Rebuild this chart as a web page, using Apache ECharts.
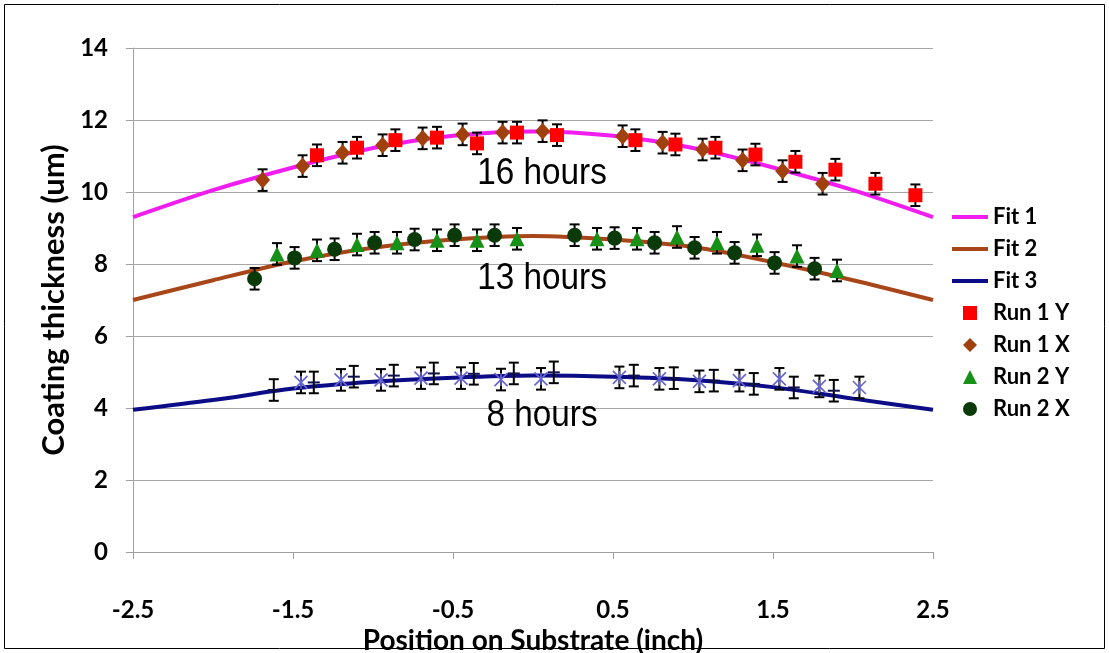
<!DOCTYPE html>
<html>
<head>
<meta charset="UTF-8">
<title>Coating thickness</title>
<script src="https://cdn.jsdelivr.net/npm/echarts@6/dist/echarts.min.js"></script>
<style>
html, body { margin: 0; padding: 0; background: #fff; }
#chart { width: 1109px; height: 653px; }
</style>
</head>
<body>
<div id="chart"></div>
<script>
// fitted curves
var fitX  = [-2.5, -2, -1.5, -1, -0.5, 0, 0.5, 1, 1.5, 2, 2.5];
var fit1Y = [9.3, 10.05, 10.68, 11.22, 11.56, 11.68, 11.56, 11.22, 10.68, 10.05, 9.3];
var fit2Y = [7.0, 7.55, 8.07, 8.45, 8.68, 8.78, 8.68, 8.47, 8.05, 7.55, 7.0];
var fit3Y = [3.95, 4.22, 4.54, 4.73, 4.84, 4.9, 4.87, 4.78, 4.58, 4.26, 3.95];

// 16 hours
var run1YX = [-1.35, -1.10, -0.86, -0.60, -0.35, -0.10, 0.15, 0.64, 0.89, 1.14, 1.39, 1.64, 1.89, 2.14, 2.39];
var run1YV = [11.02, 11.23, 11.44, 11.51, 11.35, 11.65, 11.58, 11.44, 11.32, 11.23, 11.04, 10.84, 10.62, 10.23, 9.91];
var run1XX = [-1.69, -1.44, -1.19, -0.94, -0.69, -0.44, -0.19, 0.06, 0.56, 0.81, 1.06, 1.31, 1.56, 1.81];
var run1XV = [10.33, 10.72, 11.09, 11.30, 11.49, 11.60, 11.65, 11.69, 11.55, 11.37, 11.18, 10.88, 10.58, 10.23];

// 13 hours
var run2YX = [-1.60, -1.35, -1.10, -0.85, -0.60, -0.35, -0.10, 0.40, 0.65, 0.90, 1.15, 1.40, 1.65, 1.90];
var run2YV = [8.28, 8.38, 8.54, 8.59, 8.66, 8.66, 8.70, 8.70, 8.70, 8.75, 8.59, 8.52, 8.22, 7.82];
var run2XX = [-1.74, -1.49, -1.24, -0.99, -0.74, -0.49, -0.24, 0.26, 0.51, 0.76, 1.01, 1.26, 1.51, 1.76];
var run2XV = [7.59, 8.17, 8.41, 8.59, 8.68, 8.80, 8.80, 8.80, 8.72, 8.59, 8.45, 8.31, 8.03, 7.87];

// 8 hours
var run3StarX = [-1.45, -1.20, -0.95, -0.70, -0.45, -0.20, 0.05, 0.54, 0.79, 1.04, 1.29, 1.54, 1.79, 2.04];
var run3StarV = [4.71, 4.78, 4.78, 4.83, 4.83, 4.79, 4.81, 4.85, 4.81, 4.74, 4.76, 4.81, 4.60, 4.57];
var run3DashX = [-1.62, -1.37, -1.12, -0.87, -0.62, -0.37, -0.12, 0.13, 0.63, 0.88, 1.13, 1.38, 1.63, 1.88];
var run3DashV = [4.50, 4.71, 4.87, 4.90, 4.96, 4.95, 4.96, 4.99, 4.90, 4.83, 4.76, 4.67, 4.57, 4.48];

// error bar half heights
var run1Err = 0.3;
var run2Err = 0.3;
var run3Err = 0.3;

var fontBold = 'Lato, "Open Sans", sans-serif';
var fontNote = '"Liberation Sans", Arial, sans-serif';

var chart = echarts.init(document.getElementById('chart'));

function pairs(xs, ys) {
	return xs.map(function (x, i) { return [x, ys[i]]; });
}
function errs(xs, ys, e) {
	return xs.map(function (x, i) { return [x, ys[i] - e, ys[i] + e]; });
}

// error bar with caps
function renderBar(params, api) {
	var x = api.value(0);
	var lo = api.coord([x, api.value(1)]);
	var hi = api.coord([x, api.value(2)]);
	var c = 5;
	var st = { stroke: '#000', lineWidth: 2 };
	return {
		type: 'group',
		children: [
			{ type: 'line', shape: { x1: lo[0], y1: lo[1], x2: hi[0], y2: hi[1] }, style: st },
			{ type: 'line', shape: { x1: lo[0] - c, y1: lo[1], x2: lo[0] + c, y2: lo[1] }, style: st },
			{ type: 'line', shape: { x1: hi[0] - c, y1: hi[1], x2: hi[0] + c, y2: hi[1] }, style: st }
		]
	};
}

function fitSeries(name, ys, color) {
	return {
		name: name, type: 'line', data: pairs(fitX, ys),
		symbol: 'none', smooth: 0.3, z: 1,
		lineStyle: { color: color, width: 4 },
		itemStyle: { color: color }
	};
}
function barSeries(xs, ys, e) {
	return {
		type: 'custom', renderItem: renderBar, data: errs(xs, ys, e),
		encode: { x: 0, y: [1, 2] }, z: 2, silent: true
	};
}
function note(text, y) {
	return {
		type: 'text', x: 542, y: y, scaleX: 0.9, z: 100,
		style: { text: text, fontFamily: fontNote, fontSize: 37, fill: '#000', align: 'center', verticalAlign: 'middle' }
	};
}

var option = {
	backgroundColor: '#fff',
	animation: false,
	grid: { left: 133, right: 176, top: 48, bottom: 101, outerBoundsMode: 'none' },
	legend: [{
		orient: 'vertical', left: 947, top: 201,
		itemWidth: 36, itemHeight: 4, itemGap: 10, icon: 'rect',
		textStyle: { fontFamily: fontBold, fontWeight: 'bold', fontSize: 22, lineHeight: 22, color: '#000' },
		data: ['Fit 1', 'Fit 2', 'Fit 3']
	}, {
		orient: 'vertical', left: 958, top: 297,
		itemWidth: 14, itemHeight: 14, itemGap: 10,
		textStyle: { fontFamily: fontBold, fontWeight: 'bold', fontSize: 22, lineHeight: 22, color: '#000', padding: [0, 0, 0, 11] },
		data: ['Run 1 Y', 'Run 1 X', 'Run 2 Y', 'Run 2 X']
	}],
	xAxis: {
		type: 'value', min: -2.5, max: 2.5, interval: 1,
		name: 'Position on Substrate (inch)', nameLocation: 'middle', nameGap: 68,
		nameTextStyle: { fontFamily: fontBold, fontWeight: 'bold', fontSize: 28, color: '#000' },
		axisLine: { show: true, onZero: false, lineStyle: { color: '#a0a0a0', width: 1 } },
		axisTick: { show: true, length: 7, lineStyle: { color: '#a0a0a0' } },
		splitLine: { show: false },
		axisLabel: { margin: 46, fontFamily: fontBold, fontWeight: 'bold', fontSize: 24, color: '#000' }
	},
	yAxis: {
		type: 'value', min: 0, max: 14, interval: 2,
		name: 'Coating thickness (um)', nameLocation: 'middle', nameGap: 63,
		nameTextStyle: { fontFamily: fontBold, fontWeight: 'bold', fontSize: 31, color: '#000' },
		axisLine: { show: true, onZero: false, lineStyle: { color: '#a0a0a0', width: 1 } },
		axisTick: { show: true, length: 7, lineStyle: { color: '#a0a0a0' } },
		splitLine: { show: true, lineStyle: { color: '#a6a6a6', width: 1 } },
		axisLabel: { margin: 25, fontFamily: fontBold, fontWeight: 'bold', fontSize: 24, color: '#000' }
	},
	series: [
		fitSeries('Fit 1', fit1Y, '#f01cf0'),
		fitSeries('Fit 2', fit2Y, '#a8461a'),
		fitSeries('Fit 3', fit3Y, '#0c0c86'),
		barSeries(run1YX, run1YV, run1Err),
		barSeries(run1XX, run1XV, run1Err),
		barSeries(run2YX, run2YV, run2Err),
		barSeries(run2XX, run2XV, run2Err),
		{
			name: '8h X', type: 'scatter', data: pairs(run3StarX, run3StarV), z: 2,
			symbol: 'path://M0,0L10,10M10,0L0,10M5,0L5,10', symbolSize: 13,
			itemStyle: { color: 'none', borderColor: '#6464d2', borderWidth: 1.6, opacity: 1 }
		},
		barSeries(run3StarX, run3StarV, run3Err),
		barSeries(run3DashX, run3DashV, run3Err),
		{
			name: '8h Y', type: 'scatter', data: pairs(run3DashX, run3DashV), z: 3,
			symbol: 'path://M0,0H10V2H0Z', symbolSize: [12, 2],
			itemStyle: { color: '#10104a', opacity: 1 }
		},
		{
			name: 'Run 1 Y', type: 'scatter', data: pairs(run1YX, run1YV), z: 3,
			symbol: 'rect', symbolSize: 14, itemStyle: { color: '#ff0000', opacity: 1 }
		},
		{
			name: 'Run 1 X', type: 'scatter', data: pairs(run1XX, run1XV), z: 3,
			symbol: 'diamond', symbolSize: [15, 17], itemStyle: { color: '#a0400c', opacity: 1 }
		},
		{
			name: 'Run 2 Y', type: 'scatter', data: pairs(run2YX, run2YV), z: 3,
			symbol: 'triangle', symbolSize: 15, itemStyle: { color: '#169016', opacity: 1 }
		},
		{
			name: 'Run 2 X', type: 'scatter', data: pairs(run2XX, run2XV), z: 3,
			symbol: 'circle', symbolSize: 15, itemStyle: { color: '#0a3a0a', opacity: 1 }
		}
	],
	graphic: [
		{ type: 'rect', z: 100, shape: { x: 4.5, y: 4.5, width: 1100, height: 644 }, style: { fill: 'none', stroke: '#000', lineWidth: 1 } },
		note('16 hours', 174),
		note('13 hours', 279),
		note('8 hours', 416)
	]
};

chart.setOption(option);
</script>
</body>
</html>
